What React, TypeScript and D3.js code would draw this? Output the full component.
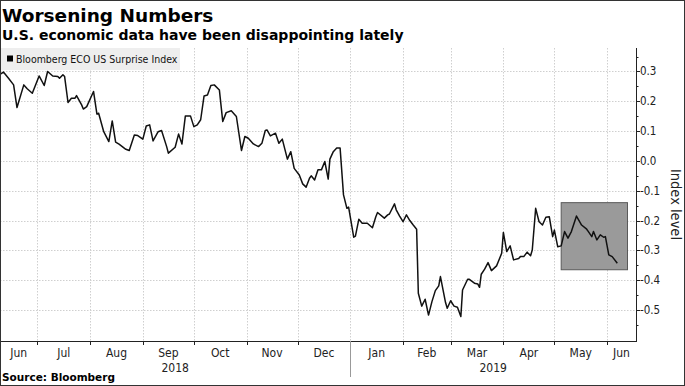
import React, { useEffect, useRef } from "react";
import * as d3 from "d3";

// Bloomberg ECO US Surprise Index
const surpriseIndex: [string, number][] = [
  ["2018-06-09", 0.29], ["2018-06-11", 0.298], ["2018-06-14", 0.277], ["2018-06-17", 0.255],
  ["2018-06-19", 0.179], ["2018-06-23", 0.255], ["2018-06-25", 0.242], ["2018-06-28", 0.227],
  ["2018-07-02", 0.285], ["2018-07-05", 0.253], ["2018-07-07", 0.3], ["2018-07-10", 0.285],
  ["2018-07-13", 0.283], ["2018-07-14", 0.277], ["2018-07-16", 0.289], ["2018-07-17", 0.283],
  ["2018-07-19", 0.196], ["2018-07-21", 0.21], ["2018-07-23", 0.21], ["2018-07-24", 0.219],
  ["2018-07-27", 0.188], ["2018-07-28", 0.174], ["2018-07-30", 0.182], ["2018-08-03", 0.233],
  ["2018-08-05", 0.157], ["2018-08-06", 0.16], ["2018-08-09", 0.098], ["2018-08-12", 0.065],
  ["2018-08-14", 0.134], ["2018-08-16", 0.063], ["2018-08-18", 0.056], ["2018-08-22", 0.039],
  ["2018-08-24", 0.035], ["2018-08-27", 0.087], ["2018-08-29", 0.085], ["2018-09-01", 0.073],
  ["2018-09-03", 0.117], ["2018-09-05", 0.121], ["2018-09-07", 0.067], ["2018-09-10", 0.098],
  ["2018-09-12", 0.102], ["2018-09-15", 0.048], ["2018-09-16", 0.026], ["2018-09-20", 0.046],
  ["2018-09-22", 0.09], ["2018-09-24", 0.057], ["2018-09-26", 0.151], ["2018-09-29", 0.151],
  ["2018-10-01", 0.115], ["2018-10-03", 0.121], ["2018-10-05", 0.138], ["2018-10-07", 0.218],
  ["2018-10-09", 0.221], ["2018-10-11", 0.253], ["2018-10-13", 0.255], ["2018-10-16", 0.238],
  ["2018-10-18", 0.132], ["2018-10-20", 0.162], ["2018-10-23", 0.168], ["2018-10-26", 0.149],
  ["2018-10-29", 0.035], ["2018-10-31", 0.082], ["2018-11-02", 0.076], ["2018-11-05", 0.057],
  ["2018-11-08", 0.048], ["2018-11-10", 0.059], ["2018-11-12", 0.102], ["2018-11-13", 0.104],
  ["2018-11-15", 0.084], ["2018-11-18", 0.093], ["2018-11-20", 0.059], ["2018-11-22", 0.073],
  ["2018-11-25", 0.006], ["2018-11-27", 0.031], ["2018-11-29", -0.025], ["2018-12-02", -0.047],
  ["2018-12-04", -0.077], ["2018-12-06", -0.088], ["2018-12-08", -0.058], ["2018-12-09", -0.05],
  ["2018-12-11", -0.064], ["2018-12-13", -0.03], ["2018-12-15", -0.03], ["2018-12-17", -0.002],
  ["2018-12-19", -0.061], ["2018-12-20", 0.006], ["2018-12-22", 0.031], ["2018-12-24", 0.043],
  ["2018-12-26", 0.043], ["2018-12-28", -0.114], ["2018-12-30", -0.159], ["2018-12-31", -0.155],
  ["2019-01-03", -0.256], ["2019-01-04", -0.252], ["2019-01-06", -0.196], ["2019-01-08", -0.209],
  ["2019-01-11", -0.209], ["2019-01-14", -0.224], ["2019-01-16", -0.187], ["2019-01-17", -0.173],
  ["2019-01-21", -0.192], ["2019-01-23", -0.181], ["2019-01-24", -0.178], ["2019-01-27", -0.144],
  ["2019-01-28", -0.164], ["2019-01-30", -0.185], ["2019-02-01", -0.204], ["2019-02-03", -0.181],
  ["2019-02-05", -0.2], ["2019-02-07", -0.215], ["2019-02-09", -0.229], ["2019-02-10", -0.444],
  ["2019-02-12", -0.487], ["2019-02-14", -0.464], ["2019-02-16", -0.517], ["2019-02-18", -0.472],
  ["2019-02-20", -0.435], ["2019-02-22", -0.419], ["2019-02-23", -0.388], ["2019-02-26", -0.475],
  ["2019-02-27", -0.494], ["2019-03-01", -0.469], ["2019-03-03", -0.487], ["2019-03-05", -0.491],
  ["2019-03-07", -0.522], ["2019-03-08", -0.433], ["2019-03-11", -0.397], ["2019-03-12", -0.397],
  ["2019-03-15", -0.41], ["2019-03-17", -0.413], ["2019-03-18", -0.424], ["2019-03-19", -0.38],
  ["2019-03-21", -0.363], ["2019-03-23", -0.341], ["2019-03-25", -0.368], ["2019-03-28", -0.352],
  ["2019-03-29", -0.338], ["2019-03-31", -0.31], ["2019-04-01", -0.24], ["2019-04-03", -0.304],
  ["2019-04-05", -0.285], ["2019-04-07", -0.332], ["2019-04-10", -0.327], ["2019-04-11", -0.321],
  ["2019-04-13", -0.321], ["2019-04-15", -0.306], ["2019-04-17", -0.318], ["2019-04-18", -0.299],
  ["2019-04-20", -0.159], ["2019-04-22", -0.204], ["2019-04-24", -0.215], ["2019-04-26", -0.189],
  ["2019-04-28", -0.187], ["2019-04-30", -0.254], ["2019-05-01", -0.232], ["2019-05-03", -0.288],
  ["2019-05-05", -0.285], ["2019-05-07", -0.237], ["2019-05-09", -0.259], ["2019-05-11", -0.237],
  ["2019-05-14", -0.185], ["2019-05-17", -0.215], ["2019-05-20", -0.229], ["2019-05-21", -0.237],
  ["2019-05-23", -0.254], ["2019-05-24", -0.237], ["2019-05-26", -0.265], ["2019-05-28", -0.248],
  ["2019-05-30", -0.256], ["2019-05-31", -0.254], ["2019-06-02", -0.315], ["2019-06-04", -0.321],
  ["2019-06-07", -0.343],
];

const yTicks = [0.3, 0.2, 0.1, 0.0, -0.1, -0.2, -0.3, -0.4, -0.5];
const yMinorTicks = [0.35, 0.25, 0.15, 0.05, -0.05, -0.15, -0.25, -0.35, -0.45, -0.55];
const xStart = "2018-06-09";
const xEnd = "2019-06-18";
// shaded "recent" window
const highlightDates = ["2019-05-05", "2019-06-13"];
const highlightValues = [-0.14, -0.365];

const W = 685;
const H = 386;
const condensed = "'DejaVu Sans Condensed', 'Liberation Sans Narrow', 'DejaVu Sans', sans-serif";
const bold = "'DejaVu Sans', Verdana, sans-serif";

export default function App() {
  const ref = useRef<SVGSVGElement>(null);

  useEffect(() => {
    document.body.style.margin = "0";
    const svg = d3.select(ref.current);
    svg.selectAll("*").remove();

    const parse = d3.timeParse("%Y-%m-%d");
    const left = 0, right = 636, top = 48, bottom = 341;

    const x = d3.scaleTime()
      .domain([parse(xStart)!, parse(xEnd)!])
      .range([left, right]);
    const y = d3.scaleLinear()
      .domain([-0.604, 0.372])
      .range([bottom, top + 2]);

    svg.append("rect").attr("width", W).attr("height", H).attr("fill", "#fff");

    // grid
    const months = d3.timeMonth.range(x.domain()[0], x.domain()[1]);
    const grid = svg.append("g")
      .attr("stroke", "#cfcfcf")
      .attr("stroke-dasharray", "1.5,1.5")
      .attr("stroke-width", 1);
    grid.selectAll("line.h")
      .data(yTicks)
      .join("line")
      .attr("x1", left).attr("x2", right)
      .attr("y1", d => Math.round(y(d)) + 0.5).attr("y2", d => Math.round(y(d)) + 0.5);
    grid.selectAll("line.v")
      .data(months.filter(m => m > x.domain()[0]))
      .join("line")
      .attr("x1", d => Math.round(x(d)) + 0.5).attr("x2", d => Math.round(x(d)) + 0.5)
      .attr("y1", top).attr("y2", bottom);

    // legend
    svg.append("rect")
      .attr("x", 0).attr("y", 48).attr("width", 180).attr("height", 22)
      .attr("fill", "#eeeeee");
    svg.append("rect")
      .attr("x", 7).attr("y", 55.5).attr("width", 6).attr("height", 6)
      .attr("fill", "#000");
    svg.append("text")
      .attr("x", 16).attr("y", 63)
      .attr("font-family", condensed).attr("font-size", 10.5)
      .attr("fill", "#111")
      .text("Bloomberg ECO US Surprise Index");

    // highlight box
    const hx0 = x(parse(highlightDates[0])!), hx1 = x(parse(highlightDates[1])!);
    const hy0 = y(highlightValues[0]), hy1 = y(highlightValues[1]);
    svg.append("rect")
      .attr("x", hx0).attr("y", hy0)
      .attr("width", hx1 - hx0).attr("height", hy1 - hy0)
      .attr("fill", "#9a9a9a")
      .attr("stroke", "#5a5a5a").attr("stroke-width", 1);

    // line
    const line = d3.line<[string, number]>()
      .x(d => x(parse(d[0])!))
      .y(d => y(d[1]));
    svg.append("path")
      .datum(surpriseIndex)
      .attr("d", line)
      .attr("fill", "none")
      .attr("stroke", "#111")
      .attr("stroke-width", 1.5)
      .attr("stroke-linejoin", "round");

    // right axis
    const ax = svg.append("g").attr("stroke", "#222");
    ax.append("line")
      .attr("x1", right + 0.5).attr("x2", right + 0.5)
      .attr("y1", top).attr("y2", bottom);
    ax.selectAll("line.major")
      .data(yTicks)
      .join("line")
      .attr("x1", right).attr("x2", right + 4)
      .attr("y1", d => Math.round(y(d)) + 0.5).attr("y2", d => Math.round(y(d)) + 0.5);
    ax.selectAll("line.minor")
      .data(yMinorTicks)
      .join("line")
      .attr("x1", right).attr("x2", right + 2.5)
      .attr("y1", d => Math.round(y(d)) + 0.5).attr("y2", d => Math.round(y(d)) + 0.5);
    svg.append("g")
      .selectAll("text")
      .data(yTicks)
      .join("text")
      .attr("x", right + 4)
      .attr("y", d => y(d) + 4)
      .attr("font-family", condensed).attr("font-size", 11.5)
      .attr("fill", "#222")
      .text(d => d3.format(".1f")(d).replace("−", "-"));
    svg.append("text")
      .attr("transform", `translate(${right + 35},${(top + bottom) / 2 + 10}) rotate(90)`)
      .attr("text-anchor", "middle")
      .attr("font-family", condensed).attr("font-size", 14.5)
      .attr("fill", "#222")
      .text("Index level");

    // bottom axis
    const bx = svg.append("g").attr("stroke", "#222");
    bx.append("line")
      .attr("x1", left).attr("x2", right + 1)
      .attr("y1", bottom + 0.5).attr("y2", bottom + 0.5);
    bx.selectAll("line.t")
      .data(months.filter(m => m > x.domain()[0]))
      .join("line")
      .attr("x1", d => Math.round(x(d)) + 0.5).attr("x2", d => Math.round(x(d)) + 0.5)
      .attr("y1", bottom).attr("y2", bottom + 4);
    const jan = parse("2019-01-01")!;
    bx.append("line")
      .attr("x1", Math.round(x(jan)) + 0.5).attr("x2", Math.round(x(jan)) + 0.5)
      .attr("y1", bottom).attr("y2", bottom + 36)
      .attr("stroke", "#999");

    const fmt = d3.timeFormat("%b");
    const monthSpans = d3.timeMonth.range(d3.timeMonth.floor(x.domain()[0]), x.domain()[1]).map(m => {
      const a = Math.max(+m, +x.domain()[0]);
      const b = Math.min(+d3.timeMonth.offset(m, 1), +x.domain()[1]);
      return { label: fmt(m), cx: (x(new Date(a)) + x(new Date(b))) / 2 };
    });
    svg.append("g")
      .selectAll("text")
      .data(monthSpans)
      .join("text")
      .attr("x", d => d.cx)
      .attr("y", bottom + 16)
      .attr("text-anchor", "middle")
      .attr("font-family", condensed).attr("font-size", 12)
      .attr("fill", "#222")
      .text(d => d.label);
    const years = [
      { label: "2018", cx: (x(x.domain()[0]) + x(jan)) / 2 },
      { label: "2019", cx: (x(jan) + x(x.domain()[1])) / 2 },
    ];
    svg.append("g")
      .selectAll("text")
      .data(years)
      .join("text")
      .attr("x", d => d.cx)
      .attr("y", bottom + 31)
      .attr("text-anchor", "middle")
      .attr("font-family", condensed).attr("font-size", 12)
      .attr("fill", "#222")
      .text(d => d.label);

    // titles
    svg.append("text")
      .attr("x", 2).attr("y", 22)
      .attr("font-family", bold).attr("font-weight", "bold").attr("font-size", 18.5)
      .attr("fill", "#000")
      .text("Worsening Numbers");
    svg.append("text")
      .attr("x", 2).attr("y", 40)
      .attr("font-family", bold).attr("font-weight", "bold").attr("font-size", 14)
      .attr("fill", "#000")
      .text("U.S. economic data have been disappointing lately");
    svg.append("text")
      .attr("x", 2).attr("y", 381)
      .attr("font-family", bold).attr("font-weight", "bold").attr("font-size", 10.5)
      .attr("fill", "#000")
      .text("Source: Bloomberg");

    svg.append("rect")
      .attr("x", 0.5).attr("y", 0.5).attr("width", W - 1).attr("height", H - 1)
      .attr("fill", "none").attr("stroke", "#333");
  }, []);

  return <svg ref={ref} width={W} height={H} style={{ display: "block" }} />;
}
